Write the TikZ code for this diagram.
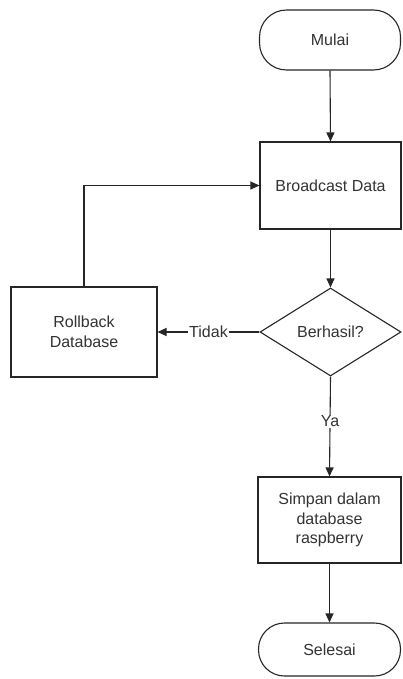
\documentclass[tikz,border=0pt]{standalone}
\usepackage{fontspec}
\setmainfont{Liberation Sans}
\usetikzlibrary{arrows.meta,shapes.geometric}
\begin{document}
\begin{tikzpicture}[x=1pt,y=-1pt,
  every node/.style={font=\fontsize{16}{19.5}\selectfont, text=black!80},
  box/.style={draw=black!85, line width=1.1pt, rectangle, inner sep=0pt, align=center},
  term/.style={box, rounded corners=27pt},
  dec/.style={draw=black!85, line width=1.1pt, diamond, shape aspect=1.6, inner sep=0pt},
  flow/.style={draw=black!85, line width=1.1pt, -{Triangle[length=9pt,width=8pt]}},
  lbl/.style={fill=white, inner sep=1pt}
]
\useasboundingbox (0,0) rectangle (402,679);
\fill[white] (0,0) rectangle (402,679);

\node[term, minimum width=141pt, minimum height=60pt] (start) at (330,40) {Mulai};
\node[box, minimum width=141pt, minimum height=87pt] (bc) at (330.5,185.5) {Broadcast Data};
\node[dec, minimum width=141pt, minimum height=88pt] (dc) at (330.5,332) {};
\node at (dc.center) {Berhasil?};
\node[box, minimum width=146pt, minimum height=90pt] (rb) at (84,332) {Rollback\\Database};
\node[box, minimum width=143pt, minimum height=86pt] (sp) at (329.5,520) {Simpan dalam\\database\\raspberry};
\node[term, rounded corners=26pt, minimum width=142pt, minimum height=53pt] (end) at (329.5,649.5) {Selesai};

\draw[flow] (start.south) -- (bc.north);
\draw[flow] (bc.south) -- (dc.north);
\draw[flow] (dc.west) -- node[lbl] {Tidak} (rb.east);
\draw[flow] (rb.north) |- (bc.west);
\draw[flow] (dc.south) -- node[lbl, pos=0.45] {Ya} (sp.north);
\draw[flow] (sp.south) -- (end.north);
\end{tikzpicture}
\end{document}
